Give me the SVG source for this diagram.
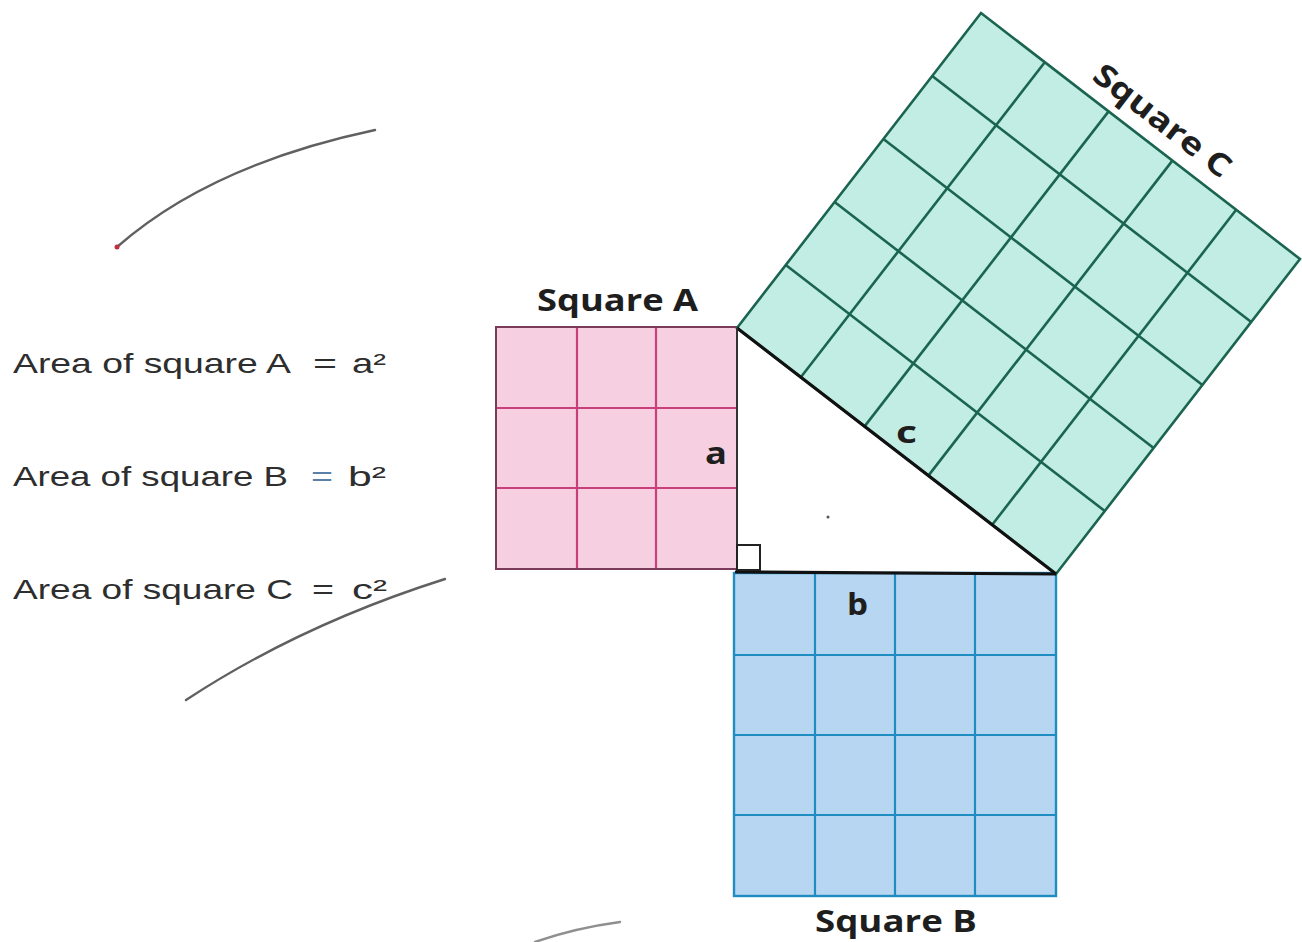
<svg xmlns="http://www.w3.org/2000/svg" width="1302" height="942" viewBox="0 0 1302 942">
<style>
.area{font-family:"Liberation Sans","DejaVu Sans",sans-serif;font-size:28px;fill:#2e2e2e}
.lbl{font-family:"Open Sans","Liberation Sans",sans-serif;font-weight:bold;font-size:31px;fill:#1e1e1e}
.ga{stroke:#c8407a;stroke-width:2.2;fill:none}
.gb{stroke:#1f8cc2;stroke-width:2.2;fill:none}
.gc{stroke:#1a6450;stroke-width:2.6;fill:none}
.side{stroke:#111;stroke-width:3.2;fill:none}
.pencil{fill:none;stroke:#444;stroke-width:2.4;stroke-linecap:round}
</style>
<rect width="1302" height="942" fill="#ffffff"/>

<g id="pencil-marks">
<path class="pencil" d="M117,247 Q210,165 375,130" opacity="0.85"/>
<circle cx="117" cy="247" r="2.5" fill="#c03040"/>
<path class="pencil" d="M186,700 Q300,625 445,579" opacity="0.85"/>
<path class="pencil" d="M535,942 Q575,928 620,922" opacity="0.6"/>
<circle cx="828" cy="517" r="1.5" fill="#555"/>
</g>

<g id="legend">
<text class="area" x="13" y="373" textLength="278" lengthAdjust="spacingAndGlyphs">Area of square A</text>
<text class="area" x="313" y="373" textLength="24" lengthAdjust="spacingAndGlyphs">=</text>
<text class="area" x="352" y="373" textLength="34" lengthAdjust="spacingAndGlyphs">a²</text>
<text class="area" x="13" y="486" textLength="275" lengthAdjust="spacingAndGlyphs">Area of square B</text>
<text class="area" x="311" y="486" textLength="22" lengthAdjust="spacingAndGlyphs" style="fill:#5a7fa8">=</text>
<text class="area" x="348" y="486" textLength="38" lengthAdjust="spacingAndGlyphs">b²</text>
<text class="area" x="13" y="599" textLength="280" lengthAdjust="spacingAndGlyphs">Area of square C</text>
<text class="area" x="312" y="599" textLength="22" lengthAdjust="spacingAndGlyphs">=</text>
<text class="area" x="352" y="599" textLength="35" lengthAdjust="spacingAndGlyphs">c²</text>
</g>

<g id="squareA">
<rect x="496" y="327" width="241" height="242" fill="#f6d0e1"/>
<line class="ga" x1="577" y1="327" x2="577" y2="569"/>
<line class="ga" x1="656" y1="327" x2="656" y2="569"/>
<line class="ga" x1="496" y1="408" x2="737" y2="408"/>
<line class="ga" x1="496" y1="488" x2="737" y2="488"/>
<rect x="496" y="327" width="241" height="242" fill="none" stroke="#7a3a5a" stroke-width="2"/>
<text class="lbl" x="537" y="311" textLength="161" lengthAdjust="spacingAndGlyphs">Square A</text>
<text class="lbl" x="705" y="464" textLength="22" lengthAdjust="spacingAndGlyphs">a</text>
</g>

<g id="squareB">
<rect x="734" y="573" width="322" height="323" fill="#b7d6f1"/>
<line class="gb" x1="815" y1="573" x2="815" y2="896"/>
<line class="gb" x1="895" y1="573" x2="895" y2="896"/>
<line class="gb" x1="975" y1="573" x2="975" y2="896"/>
<line class="gb" x1="734" y1="655" x2="1056" y2="655"/>
<line class="gb" x1="734" y1="735" x2="1056" y2="735"/>
<line class="gb" x1="734" y1="815" x2="1056" y2="815"/>
<rect x="734" y="573" width="322" height="323" fill="none" stroke="#1f8cc2" stroke-width="2.4"/>
<text class="lbl" x="815" y="932" textLength="162" lengthAdjust="spacingAndGlyphs">Square B</text>
<text class="lbl" x="847" y="615" textLength="21" lengthAdjust="spacingAndGlyphs">b</text>
</g>

<g id="squareC">
<polygon points="737,328 1056,574 1300,259 981,13" fill="#c1ede4"/>
<line class="gc" x1="785.8" y1="265" x2="1104.8" y2="511"/>
<line class="gc" x1="834.6" y1="202" x2="1153.6" y2="448"/>
<line class="gc" x1="883.4" y1="139" x2="1202.4" y2="385"/>
<line class="gc" x1="932.2" y1="76" x2="1251.2" y2="322"/>
<line class="gc" x1="800.8" y1="377.2" x2="1044.8" y2="62.2"/>
<line class="gc" x1="864.6" y1="426.4" x2="1108.6" y2="111.4"/>
<line class="gc" x1="928.4" y1="475.6" x2="1172.4" y2="160.6"/>
<line class="gc" x1="992.2" y1="524.8" x2="1236.2" y2="209.8"/>
<polygon points="737,328 1056,574 1300,259 981,13" fill="none" stroke="#1a6450" stroke-width="2.6"/>
<text class="lbl" x="0" y="0" text-anchor="middle" transform="translate(1156,129) rotate(37.6)" textLength="165" lengthAdjust="spacingAndGlyphs">Square C</text>
<text class="lbl" x="896" y="443" textLength="21" lengthAdjust="spacingAndGlyphs">c</text>
</g>

<g id="triangle">
<line class="side" x1="737" y1="328" x2="1056" y2="574"/>
<line class="side" x1="735" y1="572" x2="1056" y2="574"/>
<line x1="737" y1="328" x2="737" y2="571" stroke="#333" stroke-width="2"/>
<rect x="737" y="545" width="23" height="25" fill="#ffffff" stroke="#222" stroke-width="2"/>
</g>
</svg>
